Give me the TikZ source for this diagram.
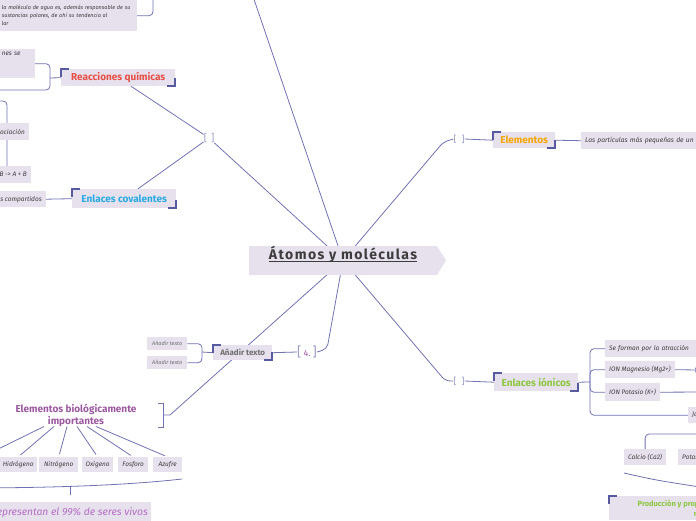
\documentclass[tikz,border=0pt]{standalone}
\usepackage{fontspec}
\setmainfont{Fira Sans}
\usetikzlibrary{shapes.symbols, backgrounds, calc}

\definecolor{boxfill}{RGB}{231,225,238}
\definecolor{linkblue}{RGB}{112,114,178}
\definecolor{cornerblue}{RGB}{88,90,160}
\definecolor{marklight}{RGB}{150,152,200}
\definecolor{inkgray}{RGB}{60,60,60}
\definecolor{titlegray}{RGB}{60,60,60}
\definecolor{addgray}{RGB}{110,110,110}
\definecolor{reacred}{RGB}{232,80,70}
\definecolor{covblue}{RGB}{41,171,226}
\definecolor{elemorange}{RGB}{247,165,0}
\definecolor{iongreen}{RGB}{141,198,63}
\definecolor{biopurple}{RGB}{155,89,160}
\definecolor{reppurple}{RGB}{180,110,195}

% corner marks of a topic box
\newcommand{\corners}[1]{%
  \draw[corner] ([yshift=-8pt]#1.north west) -- (#1.north west) -- ([xshift=8pt]#1.north west);
  \draw[corner] ([yshift=8pt]#1.south east) -- (#1.south east) -- ([xshift=-8pt]#1.south east);}

\begin{document}
\begin{tikzpicture}[x=1pt, y=-1pt,
    topic/.style={fill=boxfill, anchor=north west, inner sep=0pt,
                  font=\fontsize{10}{12}\selectfont\bfseries},
    leaf/.style={fill=boxfill, inner xsep=4pt, inner ysep=0pt,
                 font=\fontsize{6.5}{8}\selectfont\itshape, text=inkgray},
    elembox/.style={leaf, anchor=north west, minimum height=15pt, inner xsep=2pt},
    link/.style={draw=linkblue, line width=0.8pt},
    corner/.style={draw=cornerblue, line width=2pt},
    grpmark/.style={text=marklight, inner sep=0pt, font=\fontsize{9}{9}\selectfont}
  ]
    \useasboundingbox (0,0) rectangle (696,520);
    \clip (0,0) rectangle (696,520);

    % central topic
    \node[shape=signal, signal to=east, signal pointer angle=116, fill=boxfill,
          minimum width=197pt, minimum height=29pt, inner sep=0pt, text=titlegray,
          font=\fontsize{14}{16}\selectfont\bfseries\addfontfeatures{LetterSpace=10}]
      (root) at (343,260.5) {\underline{\smash{Átomos y moléculas}}};

    % upper left branch
    \node[leaf, anchor=north east, minimum height=31pt, text width=131pt, align=left,
          font=\fontsize{5.5}{8}\selectfont\itshape] (water) at (137,0)
      {la molécula de agua es, además responsable de su\\
       sustancias polares, de ahí su tendencia al\\
       lar};
    \node[leaf, anchor=north east, minimum height=29pt, text width=29pt, align=left,
          text depth=19pt] (nes) at (35,49) {nes se};
    \node[topic, minimum width=114pt, minimum height=17pt, text=reacred] (reac) at (61,69) {Reacciones químicas};
    \node[leaf, anchor=north east, minimum height=17pt] (dis) at (29,123) {Disociación};
    \node[leaf, anchor=north east, minimum height=17pt] (ab) at (31,166) {AB -{}> A + B};
    \node[leaf, anchor=north east, minimum height=16pt] (shared) at (46,191) {electrones compartidos};
    \node[topic, minimum width=104pt, minimum height=19pt, text=covblue] (cov) at (72,189) {Enlaces covalentes};
    \node[grpmark, font=\fontsize{10}{10}\selectfont] (g1) at (209,138) {[\hspace{4pt}]};

    % upper right branch
    \node[grpmark] (g2) at (459,139) {[\hspace{5pt}]};
    \node[topic, minimum width=62pt, minimum height=16pt, text=elemorange] (elem) at (493,132) {Elementos};
    \node[leaf, anchor=north west, minimum width=130pt, minimum height=17pt,
          text width=122pt, align=left, font=\fontsize{6.7}{9}\selectfont\itshape]
      (part) at (581,132) {Las partículas más pequeñas de un};

    % lower right branch
    \node[grpmark] (g3) at (459,381) {[\hspace{5pt}]};
    \node[topic, minimum width=84pt, minimum height=18pt, text=iongreen] (ion) at (494,373) {Enlaces iónicos};
    \node[leaf, anchor=north west, minimum width=110pt, minimum height=17pt,
          text width=102pt, align=left] (form) at (605,340) {Se forman por la atracción};
    \node[leaf, anchor=north west, minimum height=17pt] (mg) at (605,361) {ION Magnesio (Mg2+)};
    \node[leaf, anchor=north west, minimum height=18pt] (kpl) at (605,383) {ION Potasio (K+)};
    \node[leaf, anchor=north west, minimum height=16pt] (jab) at (688,407) {Ja};
    \node[circle, draw=linkblue, line width=0.6pt, minimum size=8pt, inner sep=0pt] (mgfold) at (699,370) {};
    \node[leaf, anchor=north west, minimum height=16pt] (ca) at (624,449) {Calcio (Ca2)};
    \node[leaf, anchor=north west, minimum height=16pt] (pot) at (678,449) {Potasio};
    \node[topic, minimum width=206pt, minimum height=24pt, align=center, text=iongreen,
          font=\fontsize{7.5}{10}\selectfont\bfseries] (prod) at (609,496)
      {Producción y propiedades de los elementos\\necesarios};

    % lower left branch
    \node[grpmark, font=\fontsize{13}{13}\selectfont] (g4) at (307,352)
      {[\,{\color{biopurple}\fontsize{9}{9}\selectfont 4.}\,]};
    \node[topic, minimum width=59pt, minimum height=15pt, text=addgray,
          font=\fontsize{8}{10}\selectfont\bfseries] (add) at (213,345) {Añadir texto};
    \node[leaf, anchor=north west, minimum width=40pt, minimum height=13pt, text=addgray,
          inner xsep=2pt, font=\fontsize{5.5}{6}\selectfont\itshape] (add1) at (147,337) {Añadir texto};
    \node[leaf, anchor=north west, minimum width=40pt, minimum height=13pt, text=addgray,
          inner xsep=2pt, font=\fontsize{5.5}{6}\selectfont\itshape] (add2) at (147,356) {Añadir texto};

    \node[inner sep=0pt, align=center, text=biopurple,
          font=\fontsize{10}{12}\selectfont\bfseries] (bio) at (76,415)
      {Elementos biológicamente\\importantes};
    \node[elembox, minimum width=38pt] (hyd) at (-1,457) {Hidrógeno};
    \node[elembox, minimum width=39pt] (nit) at (39,457) {Nitrógeno};
    \node[elembox, minimum width=31pt] (oxy) at (82,457) {Oxígeno};
    \node[elembox, minimum width=30pt] (pho) at (118,457) {Fosforo};
    \node[elembox, minimum width=29pt] (sul) at (153,457) {Azufre};
    \node[leaf, anchor=north east, minimum height=20pt, text=reppurple, inner xsep=3pt,
          font=\fontsize{10.3}{11}\selectfont\itshape] (rep) at (151,502) {Representan el 99\% de seres vivos};

    \coordinate (offtop) at (244,-30);
    \coordinate (tlup) at (153,-5);
    \coordinate (reacbar) at (50,78);
    \coordinate (reacout) at (-5,90);
    \coordinate (ionbar) at (590,382);
    \coordinate (kpout) at (705,392);
    \coordinate (caup) at (705,434);
    \coordinate (addbar) at (202,352);
    \coordinate (biobr) at (163,415);
    \coordinate (bioleft) at (-20,458);

    \corners{reac}
    \corners{cov}
    \corners{elem}
    \corners{ion}
    \corners{add}
    \corners{prod}

    \begin{scope}[on background layer]
      \clip (0,0) rectangle (696,520);
      \draw[link] (root.center) -- (offtop);
      \draw[link] (root.center) -- (g1);
      \draw[link] (g1) -- (reac);
      \draw[link] (g1) -- (cov);
      \draw[link, rounded corners=5pt] (root.center) -- ([shift={(-10,3)}]g2.west) -- (g2.west);
      \draw[link] (g2.east) -- (elem.west);
      \draw[link] (elem.east) -- (part.west);
      \draw[link, rounded corners=5pt] (root.center) -- ([shift={(-8,0)}]g3.west) -- (g3.west);
      \draw[link] (g3.east) -- (ion.west);
      \draw[link, rounded corners=5pt] (root.center) -- ([shift={(10,-3)}]g4.east) -- (g4.east);
      \draw[link] (g4.west) -- (add.east);
      \draw[link] (root.center) -- ([xshift=7pt]biobr) -- (biobr);

      \draw[link, rounded corners=4pt] (water.east) -| (tlup);
      \draw[link] (reac.west) -- (reacbar);
      \draw[link, rounded corners=4pt] (nes.east) -| (reacbar);
      \draw[link, rounded corners=4pt] (reacout) -| (reacbar);
      \draw[link, rounded corners=4pt] (-5,101) -| (7,166);
      \draw[link] (shared.east) -- (cov.west);

      \draw[link] (ion.east) -- (ionbar);
      \foreach \n in {form,mg,kpl,jab}
        \draw[link, rounded corners=4pt] (\n.west) -| (ionbar);
      \draw[link] (mg.east) -- (mgfold);
      \draw[link] (kpl.east) -- (kpout);
      \draw[link, rounded corners=4pt] (ca.north) |- (caup);
      \draw[link] (624,473) .. controls (655,480) .. (700,487);

      \draw[link] (add.west) -- (addbar);
      \draw[link, rounded corners=4pt] (add1.east) -| (addbar);
      \draw[link, rounded corners=4pt] (add2.east) -| (addbar);

      \draw[link] ([shift={(-5,-12)}]biobr) -- ++(5,0) -- ++(0,24) -- ++(-5,0);
      \draw[link] ([xshift=-32pt]bio.south) -- (bioleft);
      \foreach \dx/\tgt in {-22/hyd, -9/nit, 1/oxy, 11/pho, 20/sul}
        \draw[link, shorten >=3pt] ([xshift=\dx pt]bio.south) -- (\tgt.north);
      \draw[link] (-40,488) .. controls (40,488) and (120,486) .. (182,479);
      \draw[link] (70,487) -- (70,495);
    \end{scope}
  \end{tikzpicture}
\end{document}
